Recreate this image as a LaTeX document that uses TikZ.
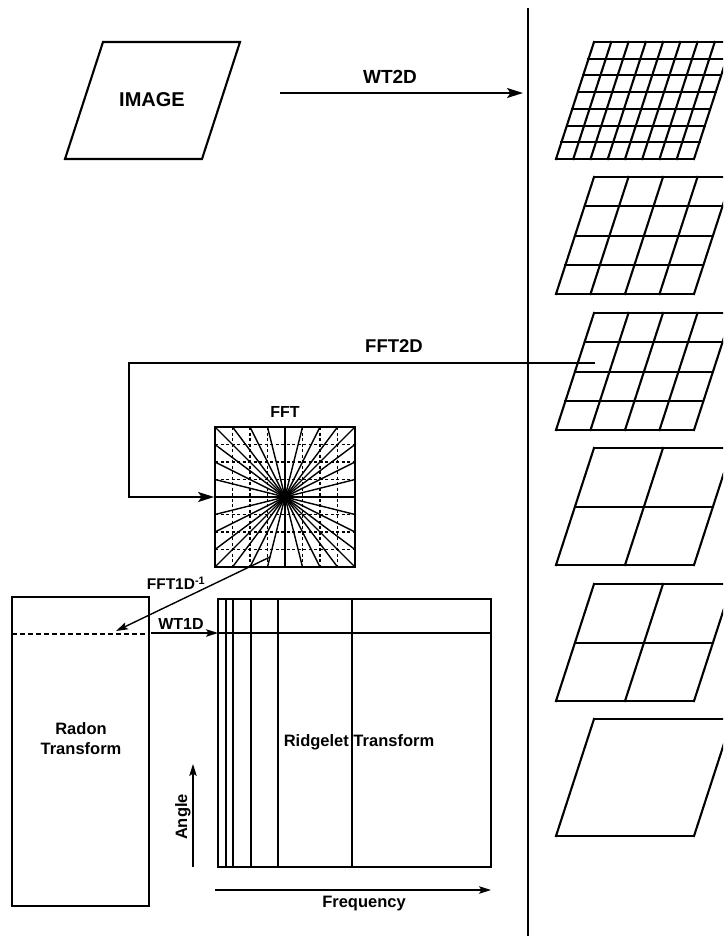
\documentclass[tikz,border=0pt]{standalone}
\usepackage{fontspec}
\setmainfont{Liberation Sans}
\usetikzlibrary{arrows.meta}
\newcommand{\skewgrid}[3]{%
  \foreach \i in {0,...,#2}{
    \draw[gridline] ({594+138*\i/#2},#1) -- ({556+138*\i/#2},{#1+117});
  }
  \foreach \j in {0,...,#3}{
    \pgfmathsetmacro{\yy}{#1+round(117*\j/#3)}
    \draw[gridline] ({594-38*(\yy-#1)/117},\yy) -- ({732-38*(\yy-#1)/117},\yy);
  }
}
\begin{document}
\begin{tikzpicture}[x=1pt,y=-1pt,
  lbl/.style={font=\bfseries\fontsize{16.5}{20}\selectfont, inner sep=0pt, align=center},
  gridline/.style={line width=2.1pt, line cap=rect},
  fftline/.style={line width=1.4pt},
  dashline/.style={line width=1.3pt, dash pattern=on 3pt off 2.5pt},
  arr/.style={line width=1.7pt, -{Stealth[length=16pt,width=10pt,inset=3.5pt]}},
  sarr/.style={line width=1.4pt, -{Stealth[length=12pt,width=7.5pt,inset=2.5pt]}},
  box/.style={draw, line width=1.8pt, inner sep=0pt}]
\useasboundingbox (0,0) rectangle (723,936);
\clip (0,0) rectangle (723,936);

% separator
\coordinate (sepT) at (528,8);
\coordinate (sepB) at (528,936);
\draw[line width=2pt] (sepT) -- (sepB);

% IMAGE parallelogram
\draw[gridline] (103,42) -- (240,42) -- (202,159) -- (65,159) -- cycle;
\node[lbl, font=\bfseries\fontsize{20}{24}\selectfont] (img) at (152,100) {IMAGE};

% WT2D arrow
\coordinate (wtA) at (280,93);
\coordinate (wtB) at (523,93);
\draw[arr] (wtA) -- (wtB);
\node[lbl, font=\bfseries\fontsize{19}{22}\selectfont] (wt2d) at (390,77) {WT2D};

% right-hand grids
\skewgrid{42}{8}{7}
\skewgrid{177}{4}{4}
\skewgrid{313}{4}{4}
\skewgrid{448}{2}{2}
\skewgrid{584}{2}{2}
\skewgrid{719}{1}{1}

% FFT square
\node[box, minimum size=140pt] (fft) at (285,497) {};
\foreach \k in {1,2,3,5,6,7}{
  \draw[dashline] ({215+17.5*\k},427) -- ({215+17.5*\k},567);
  \draw[dashline] (215,{427+17.5*\k}) -- (355,{427+17.5*\k});
}
\foreach \k in {0,...,8}{
  \draw[fftline] ({215+17.5*\k},427) -- ({355-17.5*\k},567);
}
\foreach \k in {1,...,7}{
  \draw[fftline] (215,{427+17.5*\k}) -- (355,{567-17.5*\k});
}
\node[box, minimum size=140pt] at (fft.center) {};
\node[lbl, font=\bfseries\fontsize{16}{19}\selectfont] (fftlbl) at (285,412) {FFT};

% FFT2D connector
\coordinate (g3p) at (595,363);
\coordinate (bend) at (129,363);
\draw[arr] (g3p) -- (bend) |- (fft.west);
\node[lbl, font=\bfseries\fontsize{18.5}{22}\selectfont] (fft2d) at (394,346) {FFT2D};

% Radon box
\node[box, minimum width=137pt, minimum height=309pt] (radon) at (80.5,751.5) {};
\node[lbl] (radonlbl) at (81,739) {Radon\\Transform};
\coordinate (dashL) at (12,634);
\coordinate (dashR) at (149,634);
\draw[line width=1.6pt, dash pattern=on 5pt off 3pt] (dashL) -- (dashR);

% FFT1D^-1 arrow
\coordinate (fftin) at (270,557);
\coordinate (radtip) at (116,631);
\draw[sarr] (fftin) -- (radtip);
\node[lbl, font=\bfseries\fontsize{15.5}{18}\selectfont] (ifft) at (176,583) {FFT1D\textsuperscript{-1}};

% Ridgelet box
\node[box, minimum width=273pt, minimum height=268pt] (ridge) at (354.5,733) {};
\foreach \xx in {226,233,251,278,352}{
  \draw[line width=1.8pt] (\xx,599) -- (\xx,867);
}
\draw[line width=1.8pt] (218,633) -- (491,633);
\node[lbl] (ridgelbl) at (359,742) {Ridgelet Transform};

% WT1D arrow
\coordinate (wt1A) at (151,633);
\coordinate (wt1B) at (218,633);
\draw[sarr] (wt1A) -- (wt1B);
\node[lbl, font=\bfseries\fontsize{16}{19}\selectfont] (wt1d) at (181,624) {WT1D};

% axes
\coordinate (angA) at (193,867);
\coordinate (angB) at (193,764);
\draw[sarr, line width=1.2pt] (angA) -- (angB);
\node[lbl, rotate=90] (anglbl) at (183,817) {Angle};
\coordinate (frA) at (215,890);
\coordinate (frB) at (491,890);
\draw[sarr, line width=1.2pt] (frA) -- (frB);
\node[lbl] (frlbl) at (364,904) {Frequency};
\end{tikzpicture}
\end{document}
